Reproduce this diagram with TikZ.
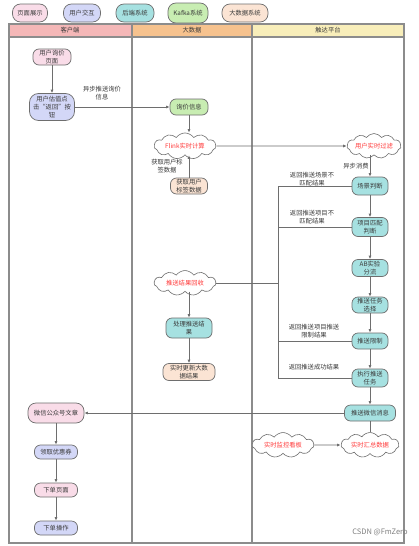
\documentclass[tikz,border=0pt]{standalone}
\usepackage{fontspec}
\setmainfont{Noto Sans CJK SC}
\usetikzlibrary{shapes.symbols,arrows.meta}
\definecolor{cpink}{HTML}{F9DCE8}
\definecolor{clav}{HTML}{D3D7F7}
\definecolor{ccyan}{HTML}{A6E1E1}
\definecolor{cgreen}{HTML}{C8EDB2}
\definecolor{cpeach}{HTML}{FBE4D4}
\definecolor{hred}{HTML}{F4B7B7}
\definecolor{horange}{HTML}{F6C28E}
\definecolor{hyellow}{HTML}{F8EEBA}
\definecolor{lanegray}{HTML}{8C8C8C}
\definecolor{linegray}{HTML}{6E6E6E}
\definecolor{txt}{HTML}{3A3A3A}
\definecolor{cloudred}{HTML}{FF3B3B}
\tikzset{
  box/.style={draw=linegray, line width=0.7pt, rounded corners=6pt, align=center,
    inner sep=0pt, font=\fontsize{6.3}{7.6}\selectfont, text=txt},
  lg/.style={box, rounded corners=8pt, minimum height=18pt},
  cloudn/.style={cloud, cloud puffs=11, cloud puff arc=110, aspect=3, draw=linegray,
    fill=white, line width=0.6pt, inner sep=0pt, text=cloudred,
    font=\fontsize{6.3}{7.6}\selectfont},
  arr/.style={draw=linegray, line width=0.8pt, -{Latex[length=3.5pt,width=3pt]}},
  ln/.style={draw=linegray, line width=0.8pt},
  lbl/.style={align=center, font=\fontsize{6.3}{7.6}\selectfont, text=txt, inner sep=0pt},
  lane/.style={draw=lanegray, line width=1.1pt},
}
\begin{document}
\begin{tikzpicture}[x=1pt,y=-1pt]
\useasboundingbox[fill=white] (0,0) rectangle (418,546);
% legend
\node[lg, fill=cpink, minimum width=35pt] (l1) at (30,13) {页面展示};
\node[lg, fill=clav, minimum width=37pt] (l2) at (82,13) {用户交互};
\node[lg, fill=ccyan, minimum width=38pt] (l3) at (135,13) {后端系统};
\node[lg, fill=cgreen, minimum width=40pt, minimum height=20pt] (l4) at (188,13) {Kafka系统};
\node[lg, fill=cpeach, minimum width=46pt] (l5) at (245,13) {大数据系统};
% lanes
\fill[hred] (9,24) rectangle (132,37);
\fill[horange] (132,24) rectangle (252,37);
\fill[hyellow] (252,24) rectangle (404,37);
\draw[lane] (9,24) rectangle (404,543);
\draw[lane] (9,37) -- (404,37);
\draw[lane] (132,24) -- (132,543);
\draw[lane] (252,24) -- (252,543);
\node[lbl] (h1) at (70,30.5) {客户端};
\node[lbl] (h2) at (192,30.5) {大数据};
\node[lbl] (h3) at (328,30.5) {触达平台};
% client lane
\node[box, fill=cpink, minimum width=38pt, minimum height=16pt] (u1) at (52,57) {用户询价\\页面};
\node[box, fill=clav, minimum width=45pt, minimum height=27pt, rounded corners=9pt] (u2) at (52,107) {用户估值点\\击“返回”按\\钮};
\node[box, fill=cpink, minimum width=56pt, minimum height=20pt, rounded corners=8pt] (wxa) at (56,413) {微信公众号文章};
\node[box, fill=clav, minimum width=43pt, minimum height=14pt] (coupon) at (56,452) {领取优惠券};
\node[box, fill=cpink, minimum width=43pt, minimum height=14pt] (opage) at (56,490) {下单页面};
\node[box, fill=clav, minimum width=43pt, minimum height=14pt] (oop) at (56,528) {下单操作};
% big data lane
\node[box, fill=cgreen, minimum width=38pt, minimum height=16pt] (kq) at (189,107) {询价信息};
\node[cloudn, minimum width=62pt, minimum height=22pt] (flink) at (185,146) {Flink实时计算};
\node[box, fill=cpeach, minimum width=37pt, minimum height=16pt] (tag) at (189,186) {获取用户\\标签数据};
\node[cloudn, minimum width=62pt, minimum height=20pt] (recv) at (185,283) {推送结果回收};
\node[box, fill=ccyan, minimum width=46pt, minimum height=20pt] (proc) at (189,328) {处理推送结\\果};
\node[box, fill=cpeach, minimum width=52pt, minimum height=17pt] (upd) at (189,372) {实时更新大数\\据结果};
% reach lane
\node[cloudn, minimum width=54pt, minimum height=22pt] (filt) at (374,146) {用户实时过滤};
\node[box, fill=ccyan, minimum width=36pt, minimum height=18pt] (scene) at (370,186) {场景判断};
\node[box, fill=ccyan, minimum width=36pt, minimum height=19pt] (match) at (370,227) {项目匹配\\判断};
\node[box, fill=ccyan, minimum width=36pt, minimum height=17pt] (ab) at (370,268) {AB实验\\分流};
\node[box, fill=ccyan, minimum width=36pt, minimum height=16pt] (task) at (370,305) {推送任务\\选择};
\node[box, fill=ccyan, minimum width=36pt, minimum height=16pt] (limit) at (370,341) {推送限制};
\node[box, fill=ccyan, minimum width=36pt, minimum height=18pt] (exec) at (370,378) {执行推送\\任务};
\node[box, fill=ccyan, minimum width=51pt, minimum height=16pt] (wechat) at (370,413) {推送微信消息};
\node[cloudn, minimum width=58pt, minimum height=24pt] (sumc) at (370,445) {实时汇总数据};
\node[cloudn, minimum width=62pt, minimum height=24pt] (mon) at (283,445) {实时监控看板};
\coordinate (busx) at (278,0);
% connectors
\draw[arr] (u1) -- (u2);
\draw[arr] (u2.east) -- (kq.west);
\node[lbl] (lb1) at (102,93) {异步推送询价\\信息};
\draw[arr] (kq.south) -- (kq.south |- flink.north);
\draw[arr] (tag.north) -- (tag.north |- flink.south);
\node[lbl] (lb2) at (167,166) {获取用户标\\签数据};
\draw[arr] (flink.east) -- (filt.west);
\draw[arr] (scene.north |- filt.south) -- (scene.north);
\node[lbl] (lb3) at (356,166) {异步消费};
\draw[arr] (scene) -- (match);
\draw[arr] (match) -- (ab);
\draw[arr] (ab) -- (task);
\draw[arr] (task) -- (limit);
\draw[arr] (limit) -- (exec);
\draw[arr] (exec) -- (wechat);
\draw[ln] (scene.west) -- (scene.west -| busx);
\draw[ln] (match.west) -- (match.west -| busx);
\draw[ln] (limit.west) -- (limit.west -| busx);
\draw[ln] (exec.west) -- (exec.west -| busx);
\draw[ln] (scene.west -| busx) -- (exec.west -| busx);
\draw[ln] (recv.east) -- (recv.east -| busx);
\node[lbl] (lb4) at (312,179) {返回推送场景不\\匹配结果};
\node[lbl] (lb5) at (312,217) {返回推送项目不\\匹配结果};
\node[lbl] (lb6) at (314,331) {返回推送项目推送\\限制结果};
\node[lbl] (lb7) at (314,367) {返回推送成功结果};
\draw[arr] (proc.north |- recv.south) -- (proc.north);
\draw[arr] (proc) -- (upd);
\draw[arr] (wechat.west) -- (wxa.east);
\draw[ln] (wechat.south) -- (wechat.south |- sumc.north);
\draw[arr] (mon.east) -- (sumc.west);
\draw[arr] (wxa) -- (coupon);
\draw[arr] (coupon) -- (opage);
\draw[arr] (opage) -- (oop);
\node[lbl, text=gray, font=\fontsize{7.5}{9}\selectfont] (wm) at (380,532) {CSDN @FmZero};
\end{tikzpicture}
\end{document}
